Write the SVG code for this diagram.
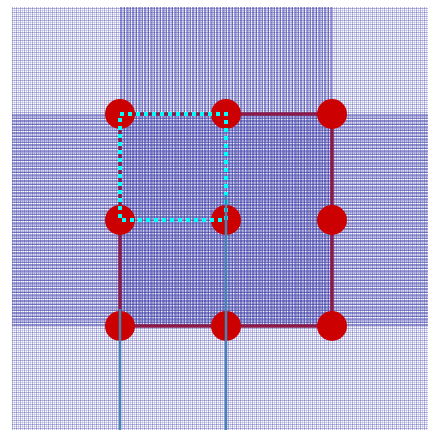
<svg xmlns="http://www.w3.org/2000/svg" width="428" height="430" viewBox="0 0 428 430">
<defs>
<pattern id="base" width="4" height="4" patternUnits="userSpaceOnUse">
<rect x="0" y="0" width="1" height="4" fill="#5a5ab8" fill-opacity="0.45"/>
<rect x="0" y="0" width="4" height="1" fill="#5a5ab8" fill-opacity="0.45"/>
<rect x="2" y="0" width="1" height="4" fill="#7a7ac8" fill-opacity="0.3"/>
<rect x="0" y="2" width="4" height="1" fill="#7a7ac8" fill-opacity="0.3"/>
</pattern>
<pattern id="vband" width="3" height="3" patternUnits="userSpaceOnUse">
<rect x="1" y="0" width="1" height="3" fill="#3c3ca8" fill-opacity="0.55"/>
<rect x="0" y="0" width="1" height="3" fill="#3c3ca8" fill-opacity="0.3"/>
</pattern>
<pattern id="hband" width="3" height="3" patternUnits="userSpaceOnUse">
<rect x="0" y="1" width="3" height="1" fill="#3c3ca8" fill-opacity="0.55"/>
<rect x="0" y="0" width="3" height="1" fill="#3c3ca8" fill-opacity="0.3"/>
</pattern>
</defs>
<style>
.node{fill:#cc0000}
.frame{fill:none;stroke:#8b1a4b;stroke-width:3.5}
.dotted{fill:none;stroke:#00ffff;stroke-width:4;stroke-dasharray:4 4}
.pole{stroke:#4682b4;stroke-width:2.5}
</style>
<rect width="428" height="430" fill="#ffffff"/>
<g id="background">
<rect x="12" y="7" width="416" height="423" fill="url(#base)"/>
<rect x="120" y="7" width="212" height="319" fill="url(#vband)"/>
<rect x="12" y="114" width="416" height="212" fill="url(#hband)"/>
</g>
<g id="connectors">
<rect class="frame" x="120" y="114" width="212" height="212"/>
</g>
<g id="n00"><circle class="node" cx="120" cy="114" r="15"/></g>
<g id="n01"><circle class="node" cx="226" cy="114" r="15"/></g>
<g id="n02"><circle class="node" cx="332" cy="114" r="15"/></g>
<g id="n10"><circle class="node" cx="120" cy="220" r="15"/></g>
<g id="n11"><circle class="node" cx="226" cy="220" r="15"/></g>
<g id="n12"><circle class="node" cx="332" cy="220" r="15"/></g>
<g id="n20"><circle class="node" cx="120" cy="326" r="15"/></g>
<g id="n21"><circle class="node" cx="226" cy="326" r="15"/></g>
<g id="n22"><circle class="node" cx="332" cy="326" r="15"/></g>
<g id="overlays">
<rect class="dotted" x="120" y="114" width="106" height="106"/>
<line class="pole" x1="120" y1="309" x2="120" y2="430"/>
<line class="pole" x1="226" y1="195" x2="226" y2="430"/>
</g>
</svg>
